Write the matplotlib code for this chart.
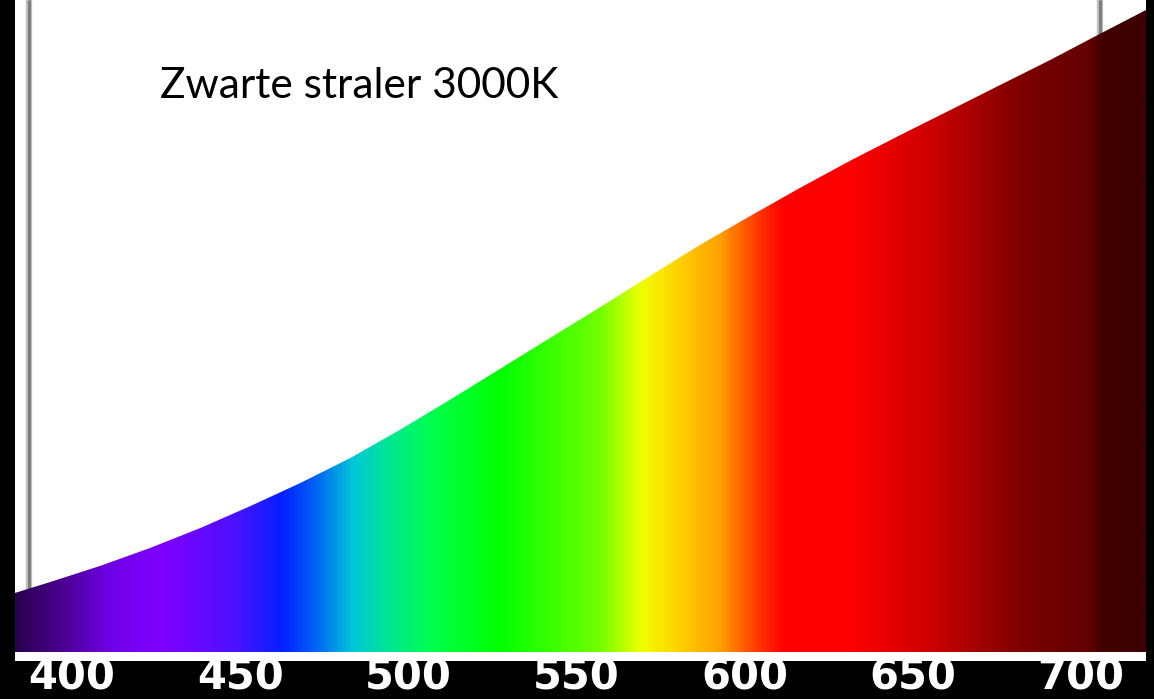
import numpy as np
import matplotlib
matplotlib.use('Agg')
import matplotlib.pyplot as plt
from matplotlib.colors import LinearSegmentedColormap, to_rgb

# ── Data ─────────────────────────────────────────────────────────────────────
# blackbody curve (3000 K), relative intensity
wavelength = [383.05, 393.5, 408.3, 423.2, 438.1, 452.9, 467.8, 482.7, 497.5,
              512.4, 527.3, 542.1, 557.0, 571.9, 586.7, 601.6, 616.5, 631.3,
              646.2, 661.1, 675.9, 690.8, 705.7, 719.35]
intensity = [0.092, 0.109, 0.134, 0.162, 0.193, 0.227, 0.263, 0.302, 0.346,
             0.393, 0.441, 0.489, 0.537, 0.586, 0.634, 0.679, 0.723, 0.765,
             0.805, 0.844, 0.883, 0.922, 0.963, 1.000]

tick_values = [400, 450, 500, 550, 600, 650, 700]
tick_labels = ['400', '450', '500', '550', '600', '650', '700']

# spectrum colours along the wavelength axis
stop_nm = [383.05, 396.4, 411.3, 426.2, 447.0, 462.7, 473.7, 483.3, 494.6,
           506.4, 527.3, 557.0, 569.5, 580.8, 592.7, 603.1, 612.0, 631.3,
           656.6, 681.9, 704.2, 706.3, 719.35]
stop_col = ['#2a0050', '#4a0090', '#7000e8', '#8000ff', '#5010ff', '#0022ff',
            '#0070f0', '#00c8d8', '#00e890', '#00ff50', '#00ff00', '#70ff00',
            '#f0ff00', '#ffd000', '#ffa000', '#ff4000', '#ff0000', '#ff0000',
            '#cc0000', '#800000', '#600000', '#450000', '#3c0000']

title = 'Zwarte straler 3000K'

# ── Layout (pixels -> figure fractions) ──────────────────────────────────────
W, H = 1154, 699
X_MIN, X_MAX = 383.05, 719.35
Y_MIN, Y_MAX = -0.014, 1.0156
frame_nm = [387.2, 705.7]          # thin grey frame lines of the source image

fig = plt.figure(figsize=(W / 100, H / 100), dpi=100, facecolor='black')
ax = fig.add_axes([15 / W, 38 / H, (1146 - 15) / W, (H - 38) / H])
ax.set_facecolor('white')
ax.set_xlim(X_MIN, X_MAX)
ax.set_ylim(Y_MIN, Y_MAX)
for sp in ax.spines.values():
    sp.set_visible(False)
ax.set_yticks([])

# grey frame lines, hidden below the curve by the spectrum fill
ax.vlines(frame_nm, 0.02, Y_MAX, color='#bdbdbd', lw=4.5, zorder=1)
ax.vlines(frame_nm, 0.02, Y_MAX, color='#7a7a7a', lw=2.0, zorder=1)

# ── Spectrum fill clipped to area under the curve ────────────────────────────
span = X_MAX - X_MIN
pos = np.clip((np.array(stop_nm) - X_MIN) / span, 0, 1)
pos[0], pos[-1] = 0.0, 1.0
cmap = LinearSegmentedColormap.from_list(
    'spec', [(p, to_rgb(c)) for p, c in zip(pos, stop_col)])
grad = np.linspace(0, 1, 1200).reshape(1, -1)
img = ax.imshow(grad, cmap=cmap, aspect='auto', interpolation='bilinear',
                extent=[X_MIN, X_MAX, 0, Y_MAX], zorder=2)
poly = ax.fill_between(wavelength, 0, intensity, color='none', lw=0)
img.set_clip_path(poly.get_paths()[0], transform=ax.transData)

# ── Tick labels in the black strip ───────────────────────────────────────────
ax.set_xticks(tick_values)
ax.set_xticklabels(tick_labels, color='white', fontsize=30, fontweight='bold',
                   family='DejaVu Sans')
ax.tick_params(axis='x', length=0, pad=-3)

# ── Title text ───────────────────────────────────────────────────────────────
fig.text(160 / W, 1 - 98 / H, title, fontsize=30.5, family='Lato',
         color='black', ha='left', va='baseline')

fig.savefig('out.png', dpi=100, facecolor='black')
plt.close(fig)
